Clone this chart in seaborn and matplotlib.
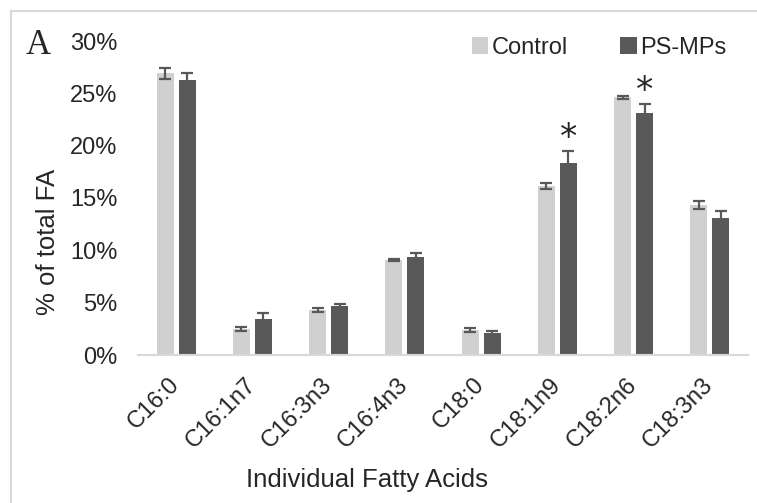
import numpy as np
import pandas as pd
import matplotlib
matplotlib.use("Agg")
import matplotlib.pyplot as plt
from matplotlib.patches import Rectangle
import seaborn as sns

# values (% of total FA, mean and error)
acids = ["C16:0", "C16:1n7", "C16:3n3", "C16:4n3", "C18:0", "C18:1n9", "C18:2n6", "C18:3n3"]
groups = ["Control", "PS-MPs"]
control = [26.9, 2.48, 4.30, 9.08, 2.39, 16.15, 24.62, 14.33]
control_err = [0.55, 0.18, 0.15, 0.12, 0.15, 0.29, 0.17, 0.4]
ps_mps = [26.25, 3.41, 4.65, 9.33, 2.13, 18.37, 23.09, 13.06]
ps_mps_err = [0.7, 0.63, 0.22, 0.44, 0.19, 1.12, 0.92, 0.7]
significant = ["C18:1n9", "C18:2n6"]

colors = {"Control": "#D0D0D0", "PS-MPs": "#595959"}
err_color = "#595959"

df = pd.DataFrame({
    "acid": acids * 2,
    "value": control + ps_mps,
    "err": control_err + ps_mps_err,
    "group": [groups[0]] * len(acids) + [groups[1]] * len(acids),
})

sns.set_style("white")
plt.rcParams["font.family"] = ["Liberation Sans", "DejaVu Sans"]

fig = plt.figure(figsize=(7.57, 5.03), dpi=100)
ax = fig.add_axes([138 / 757, 1 - 355 / 503, 610 / 757, 314 / 503])

sns.barplot(data=df, x="acid", y="value", hue="group", order=acids,
            hue_order=groups, palette=colors, width=0.577, gap=0.227,
            errorbar=None, saturation=1, linewidth=0, ax=ax)

# error bars on top of each bar, positions taken from the drawn patches
bars = [p for p in ax.patches if p.get_height() > 0][:len(df)]
for bar, (_, row) in zip(bars, df.iterrows()):
    xc = bar.get_x() + bar.get_width() / 2
    ax.errorbar(xc, row["value"], yerr=row["err"], fmt="none",
                ecolor=err_color, elinewidth=1.6, capsize=4.3, capthick=1.6)
    if row["group"] == "PS-MPs" and row["acid"] in significant:
        ax.text(xc, row["value"] + row["err"] + 1.2, "*", ha="center",
                va="center", fontsize=25, family="DejaVu Sans")

ax.set_ylim(0, 30)
ax.set_xlim(-0.5, len(acids) - 0.5)
ax.set_yticks(np.arange(0, 31, 5))
ax.set_yticklabels([f"{v}%" for v in range(0, 31, 5)])
ax.tick_params(axis="y", length=0, pad=15, labelsize=17)
ax.tick_params(axis="x", length=0, pad=19, labelsize=17)
for lab in ax.get_xticklabels():
    lab.set_rotation(45)
    lab.set_ha("right")
    lab.set_va("center")
    lab.set_rotation_mode("anchor")

for side in ["left", "right", "top"]:
    ax.spines[side].set_visible(False)
ax.spines["bottom"].set_color("#D9D9D9")
ax.spines["bottom"].set_linewidth(1.5)

ax.set_xlabel("Individual Fatty Acids", fontsize=18.5)
ax.set_ylabel("% of total FA", fontsize=18.5)
ax.xaxis.set_label_coords(0.375, -0.36)
ax.yaxis.set_label_coords(-0.128, 0.36)

handles, labels = ax.get_legend_handles_labels()
ax.legend(handles, labels, ncol=2, frameon=False, fontsize=17,
          loc="center", bbox_to_anchor=(599 / 757, 1 - 48 / 503),
          bbox_transform=fig.transFigure, handlelength=0.7, handleheight=0.7,
          handletextpad=0.15, columnspacing=2.2)

fig.text(38 / 757, 1 - 45 / 503, "A", family="Liberation Serif",
         fontsize=25, ha="center", va="center")

# outer frame (right and bottom edges fall outside the picture)
fig.patches.append(Rectangle((11 / 757, -0.1), 1.2, 1 - 11 / 503 + 0.1,
                             transform=fig.transFigure, fill=False,
                             edgecolor="#D9D9D9", linewidth=1.5))

fig.savefig("out.png", dpi=100)
